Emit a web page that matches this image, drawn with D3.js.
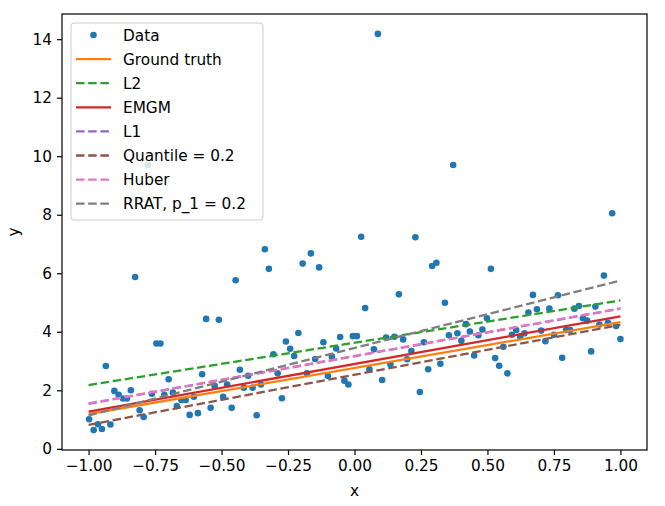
<!DOCTYPE html>
<html>
<head>
<meta charset="utf-8">
<script src="https://cdn.jsdelivr.net/npm/d3@7"></script>
<style>
  body { margin: 0; background: #fff; }
  text { font-family: "DejaVu Sans", sans-serif; fill: #000; }
</style>
</head>
<body>
<script>
// scatter data
const dataX = [-0.998,-0.981,-0.965,-0.950,-0.935,-0.918,-0.903,-0.887,-0.871,-0.856,-0.841,-0.825,-0.808,-0.793,-0.777,-0.762,-0.745,-0.730,-0.715,-0.699,-0.683,-0.668,-0.651,-0.635,-0.620,-0.604,-0.589,-0.573,-0.558,-0.541,-0.526,-0.510,-0.494,-0.479,-0.462,-0.447,-0.431,-0.416,-0.400,-0.383,-0.368,-0.352,-0.337,-0.322,-0.305,-0.289,-0.273,-0.258,-0.242,-0.227,-0.211,-0.195,-0.179,-0.164,-0.148,-0.133,-0.117,-0.100,-0.085,-0.069,-0.054,-0.038,-0.023,-0.006,0.009,0.025,0.040,0.056,0.073,0.088,0.104,0.119,0.135,0.150,0.167,0.183,0.198,0.214,0.229,0.246,0.261,0.277,0.292,0.308,0.323,0.340,0.355,0.371,0.387,0.402,0.419,0.434,0.450,0.466,0.481,0.498,0.513,0.529,0.544,0.560,0.575,0.592,0.608,0.623,0.639,0.654,0.671,0.686,0.702,0.718,0.733,0.750,0.765,0.781,0.796,0.811,0.827,0.844,0.859,0.875,0.890,0.906,0.921,0.938,0.953,0.969,0.984,1.000];
const dataY = [1.01,0.64,0.84,0.68,2.83,0.83,1.98,1.85,1.72,1.72,2.00,5.87,1.32,1.09,9.70,1.88,3.60,3.60,1.85,2.38,1.92,1.46,1.67,1.67,1.16,1.78,1.22,2.55,4.44,1.40,2.15,4.41,1.78,2.20,1.40,5.76,2.70,2.09,2.50,2.09,1.15,2.20,6.82,6.15,3.23,2.58,1.73,3.67,3.42,3.17,3.96,6.33,2.58,6.68,3.07,6.20,3.64,2.49,3.15,3.43,3.82,2.33,2.20,3.85,3.85,7.25,4.81,2.72,3.40,14.18,2.35,3.80,2.89,3.83,5.28,3.74,3.06,3.34,7.23,1.94,3.64,2.72,6.25,6.36,2.91,4.99,3.88,9.70,3.95,3.69,4.26,4.01,3.19,3.88,4.08,4.46,6.15,3.10,2.84,3.49,2.58,3.90,4.06,3.83,3.95,4.66,5.26,4.77,4.04,3.68,4.79,3.90,5.25,3.11,4.06,4.06,4.79,4.88,4.46,4.38,3.33,4.86,4.25,5.92,4.31,8.05,4.20,3.75];

// fitted lines, value at x = -1 and x = 1
const fitNames = ["Ground truth", "L2", "EMGM", "L1", "Quantile = 0.2", "Huber", "RRAT, p_1 = 0.2"];
const fitStart = [1.19, 2.18, 1.27, 1.54, 0.82, 1.55, 1.14];
const fitEnd   = [4.33, 5.07, 4.53, 4.79, 4.24, 4.80, 5.75];
const fitX = [-1, 1];

const xTicks = [-1, -0.75, -0.5, -0.25, 0, 0.25, 0.5, 0.75, 1];
const yTicks = [0, 2, 4, 6, 8, 10, 12, 14];

const colors = ["#ff7f0e", "#2ca02c", "#d62728", "#9467bd", "#8c564b", "#e377c2", "#7f7f7f"];
const dashed = [false, true, false, true, true, true, true];

const W = 665, H = 506;
const m = {left: 62, right: 647, top: 14, bottom: 450};

const svg = d3.select("body").append("svg")
    .attr("width", W)
    .attr("height", H);

const x = d3.scaleLinear().domain([-1.1, 1.1]).range([m.left, m.right]);
const y = d3.scaleLinear().domain([-0.04, 14.86]).range([m.bottom, m.top]);

// points
svg.append("g")
    .selectAll("circle")
    .data(dataX)
    .enter()
    .append("circle")
    .attr("cx", d => x(d))
    .attr("cy", (d, i) => y(dataY[i]))
    .attr("r", 3.3)
    .attr("fill", "#1f77b4");

// lines
const line = d3.line().x(d => x(d[0])).y(d => y(d[1]));
fitNames.forEach((name, i) => {
    svg.append("path")
        .attr("d", line([[fitX[0], fitStart[i]], [fitX[1], fitEnd[i]]]))
        .attr("fill", "none")
        .attr("stroke", colors[i])
        .attr("stroke-width", 2.3)
        .attr("stroke-dasharray", dashed[i] ? "8.5,3.7" : null);
});

// axes
const xAxis = svg.append("g")
    .attr("transform", `translate(0,${m.bottom})`)
    .call(d3.axisBottom(x).tickValues(xTicks).tickFormat(d3.format(".2f")).tickSize(5).tickPadding(5));
const yAxis = svg.append("g")
    .attr("transform", `translate(${m.left},0)`)
    .call(d3.axisLeft(y).tickValues(yTicks).tickSize(5).tickPadding(5));

[xAxis, yAxis].forEach(a => {
    a.select(".domain").remove();
    a.selectAll("line").attr("stroke", "#000").attr("stroke-width", 1.2);
    a.selectAll("text").style("font-size", "15.3px").style("font-family", "DejaVu Sans");
});

// frame
svg.append("rect")
    .attr("x", m.left).attr("y", m.top)
    .attr("width", m.right - m.left).attr("height", m.bottom - m.top)
    .attr("fill", "none").attr("stroke", "#000").attr("stroke-width", 1.2);

svg.append("text")
    .attr("x", (m.left + m.right) / 2).attr("y", 496)
    .attr("text-anchor", "middle")
    .style("font-size", "15.3px")
    .text("x");
svg.append("text")
    .attr("transform", `translate(19,${(m.top + m.bottom) / 2}) rotate(-90)`)
    .attr("text-anchor", "middle")
    .style("font-size", "15.3px")
    .text("y");

// legend
const leg = svg.append("g");
leg.append("rect")
    .attr("x", 71).attr("y", 23)
    .attr("width", 192).attr("height", 197)
    .attr("rx", 3)
    .attr("fill", "#fff").attr("fill-opacity", 0.8)
    .attr("stroke", "#cccccc").attr("stroke-width", 1);

const rowY = d => 35 + d * 24.1;
leg.append("circle")
    .attr("cx", 93.5).attr("cy", rowY(0)).attr("r", 3.3)
    .attr("fill", "#1f77b4");
leg.append("text")
    .attr("x", 123).attr("y", rowY(0)).attr("dy", "0.36em")
    .style("font-size", "15.3px").text("Data");

fitNames.forEach((name, i) => {
    const yy = rowY(i + 1);
    leg.append("line")
        .attr("x1", 76).attr("x2", 111)
        .attr("y1", yy).attr("y2", yy)
        .attr("stroke", colors[i])
        .attr("stroke-width", 2.3)
        .attr("stroke-dasharray", dashed[i] ? "8.5,3.7" : null);
    leg.append("text")
        .attr("x", 123).attr("y", yy).attr("dy", "0.36em")
        .style("font-size", "15.3px")
        .text(name);
});
</script>
</body>
</html>
